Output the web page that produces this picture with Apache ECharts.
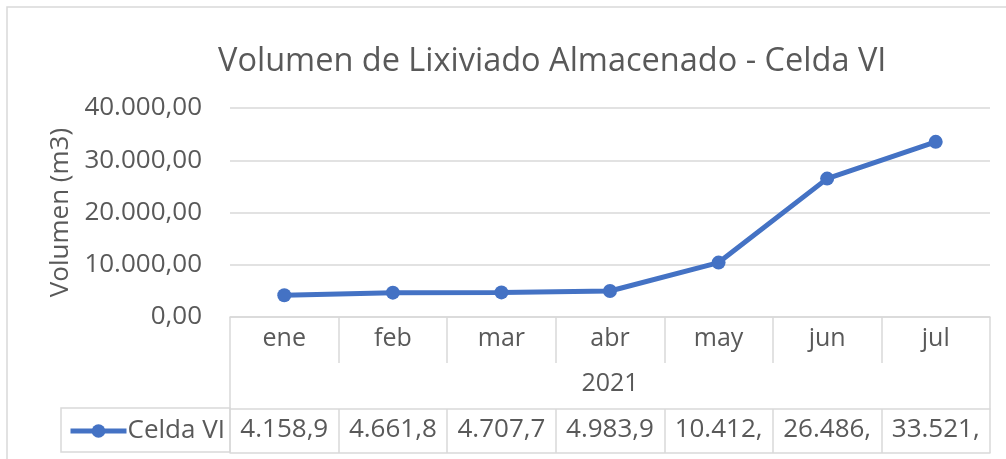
<!DOCTYPE html>
<html>
<head>
<meta charset="utf-8">
<script src="https://cdn.jsdelivr.net/npm/echarts@6/dist/echarts.min.js"></script>
<style>
  html, body { margin: 0; padding: 0; background: #fff; }
  #chart { width: 1006px; height: 459px; }
</style>
</head>
<body>
<div id="chart"></div>
<script>
// datos
const months = ['ene', 'feb', 'mar', 'abr', 'may', 'jun', 'jul']
const yearLabel = ['2021']
const seriesName = 'Celda VI'
const volumes = [4158.92, 4661.85, 4707.74, 4983.93, 10412.5, 26486.3, 33521.4]
const yTicks = [0, 10000, 20000, 30000, 40000]

// formato numerico estilo es (1.234,56)
function fmt(v) {
  const parts = v.toFixed(2).split('.')
  return parts[0].replace(/\B(?=(\d{3})+(?!\d))/g, '.') + ',' + parts[1]
}
const tableLabels = volumes.map(fmt)

const gray = '#595959'
const gridGray = '#d9d9d9'
const blue = '#4472c4'
const font = 'Open Sans'

const chart = echarts.init(document.getElementById('chart'))
const option = {
  backgroundColor: '#fff',
  textStyle: { fontFamily: font, color: gray },
  title: {
    text: 'Volumen de Lixiviado Almacenado - Celda VI',
    left: 213,
    top: 40,
    textStyle: { fontFamily: font, fontSize: 32.5, fontWeight: 'normal', color: gray }
  },
  legend: {
    data: [seriesName],
    left: 63,
    top: 413,
    itemWidth: 56,
    itemHeight: 17,
    itemGap: 4,
    lineStyle: { width: 5, color: blue },
    textStyle: { fontFamily: font, fontSize: 26, color: gray, padding: [0, 0, 0, -4] }
  },
  grid: { left: 230, right: 16, top: 108, bottom: 142 },
  xAxis: [
    {
      type: 'category',
      data: months,
      boundaryGap: true,
      axisLine: { show: true, lineStyle: { color: gridGray, width: 1.5 } },
      axisTick: { show: true, interval: 0, length: 46, lineStyle: { color: gridGray, width: 1.5 } },
      axisLabel: { interval: 0, margin: 22, verticalAlign: 'middle', fontFamily: font, fontSize: 25, color: gray }
    },
    {
      type: 'category',
      data: yearLabel,
      position: 'bottom',
      boundaryGap: true,
      axisLine: { show: false },
      axisTick: { show: true, interval: 0, length: 92, lineStyle: { color: gridGray, width: 1.5 } },
      axisLabel: { margin: 67, verticalAlign: 'middle', fontFamily: font, fontSize: 25, color: gray }
    },
    {
      type: 'category',
      data: tableLabels,
      position: 'bottom',
      offset: 92,
      boundaryGap: true,
      axisLine: { show: true, lineStyle: { color: gridGray, width: 1.5 } },
      axisTick: { show: true, interval: 0, length: 44, lineStyle: { color: gridGray, width: 1.5 } },
      axisLabel: {
        interval: 0, margin: 21, verticalAlign: 'middle',
        fontFamily: font, fontSize: 26, color: gray,
        width: 96, overflow: 'truncate', ellipsis: ''
      }
    },
    {
      type: 'category',
      data: months,
      position: 'bottom',
      offset: 136,
      axisLine: { show: true, lineStyle: { color: gridGray, width: 1.5 } },
      axisTick: { show: false },
      axisLabel: { show: false }
    }
  ],
  yAxis: {
    type: 'value',
    min: yTicks[0],
    max: yTicks[yTicks.length - 1],
    interval: 10000,
    name: 'Volumen (m3)',
    nameLocation: 'middle',
    nameGap: 154,
    nameRotate: 90,
    nameTextStyle: { fontFamily: font, fontSize: 26, color: gray },
    axisLine: { show: false },
    axisTick: { show: false },
    axisLabel: { margin: 28, fontFamily: font, fontSize: 26, color: gray, formatter: fmt },
    splitLine: { lineStyle: { color: gridGray, width: 1.5 } }
  },
  graphic: [
    {
      type: 'rect',
      shape: { x: 7, y: 7, width: 1010, height: 470 },
      style: { fill: null, stroke: gridGray, lineWidth: 1.5 },
      silent: true
    },
    {
      type: 'rect',
      shape: { x: 61, y: 408, width: 169, height: 44 },
      style: { fill: null, stroke: gridGray, lineWidth: 1.5 },
      silent: true
    }
  ],
  series: [
    {
      name: seriesName,
      type: 'line',
      data: volumes,
      xAxisIndex: 0,
      symbol: 'circle',
      symbolSize: 14,
      lineStyle: { color: blue, width: 5 },
      itemStyle: { color: blue },
      z: 5
    }
  ]
}
chart.setOption(option)
</script>
</body>
</html>
